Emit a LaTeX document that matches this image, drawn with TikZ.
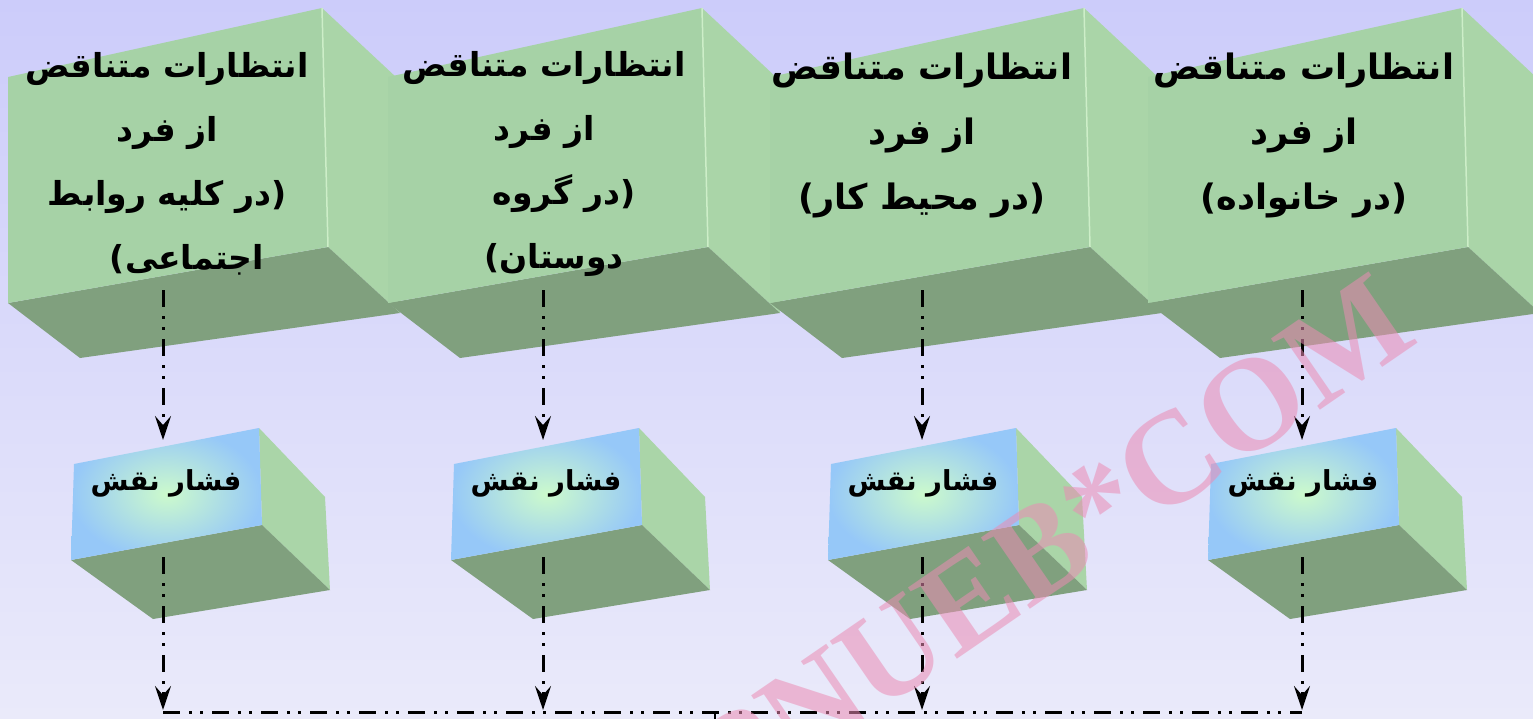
\documentclass[tikz,border=0pt]{standalone}
\usepackage{fontspec}
\setmainfont{Liberation Serif}
\TeXXeTstate=1
\newfontfamily\fa[Script=Arabic]{DejaVu Sans}
\usetikzlibrary{arrows.meta}
\definecolor{bgtop}{RGB}{204,204,250}
\definecolor{bgbot}{RGB}{234,234,250}
\definecolor{gfront}{RGB}{166,210,166}
\definecolor{gside}{RGB}{170,213,168}
\definecolor{gbottom}{RGB}{128,160,126}
\definecolor{gedge}{RGB}{205,238,200}
\definecolor{sin}{RGB}{204,250,204}
\definecolor{sout}{RGB}{150,200,248}
\definecolor{wmcol}{RGB}{235,140,180}
\newcommand\faline[1]{\beginR#1\endR}
\newcommand\bigcube[1]{%
  \begin{scope}[xshift=#1pt]
    \fill[gside] (322,8) -- (397,78) -- (400,313) -- (328,247) -- cycle;
    \fill[gbottom] (8,303) -- (328,247) -- (400,313) -- (80,358) -- cycle;
    \fill[gfront] (8,77) -- (322,8) -- (328,247) -- (8,303) -- cycle;
    \draw[gedge,line width=1.5pt] (322,8) -- (328,247);
  \end{scope}}
\newcommand\smallcube[1]{%
  \begin{scope}[xshift=#1pt]
    \fill[gside] (259,428) -- (325,497) -- (330,590) -- (262,525) -- cycle;
    \fill[gbottom] (71,560) -- (262,525) -- (330,590) -- (153,619) -- cycle;
    \shade[inner color=sin,outer color=sout] (74,464) -- (259,428) -- (262,525) -- (71,560) -- cycle;
  \end{scope}}
\tikzset{
  bigtext/.style={align=center,inner sep=0pt,font=\fa\bfseries\fontsize{33}{64}\selectfont},
  bigtextw/.style={align=center,inner sep=0pt,font=\fa\bfseries\fontsize{35}{65}\selectfont},
  smalltext/.style={inner sep=0pt,font=\fa\bfseries\fontsize{27.5}{30}\selectfont},
  flow/.style={line width=3pt,dash pattern=on 17pt off 9pt on 3pt off 8pt on 3pt off 9pt},
  arrowtip/.style={-{Stealth[length=24pt,width=16pt,inset=9pt]}}
}
\begin{document}
\begin{tikzpicture}[x=1pt,y=-1pt]
\useasboundingbox (0,0) rectangle (1533,719);
\shade[top color=bgtop,bottom color=bgbot] (0,0) rectangle (1533,719);
% big cubes
\bigcube{0}
\bigcube{380}
\bigcube{762}
\bigcube{1140}
% small cubes
\smallcube{0}
\smallcube{380}
\smallcube{757}
\smallcube{1137}
% texts
\node[bigtext] (t1) at (167,164) {\faline{انتظارات متناقض}\\\faline{از فرد}\\\faline{(در کلیه روابط}\hspace*{18pt}\\\hspace*{40pt}\faline{اجتماعی)}};
\node[bigtext] (t2) at (544,164) {\faline{انتظارات متناقض}\\\faline{از فرد}\\\hspace*{40pt}\faline{(در گروه}\\\hspace*{20pt}\faline{دوستان)}};
\node[bigtextw] (t3) at (922,135) {\faline{انتظارات متناقض}\\\faline{از فرد}\\\faline{(در محیط کار)}};
\node[bigtextw] (t4) at (1304,135) {\faline{انتظارات متناقض}\\\faline{از فرد}\\\faline{(در خانواده)}};
\node[smalltext] (s1) at (166,483) {\faline{فشار نقش}};
\node[smalltext] (s2) at (546,483) {\faline{فشار نقش}};
\node[smalltext] (s3) at (923,483) {\faline{فشار نقش}};
\node[smalltext] (s4) at (1303,483) {\faline{فشار نقش}};
% connector coordinates
\coordinate (a1) at (163,290); \coordinate (b1) at (163,440);
\coordinate (c1) at (163,557); \coordinate (d1) at (163,710);
\coordinate (a2) at (543,290); \coordinate (b2) at (543,440);
\coordinate (c2) at (543,557); \coordinate (d2) at (543,710);
\coordinate (a3) at (922,290); \coordinate (b3) at (922,440);
\coordinate (c3) at (922,557); \coordinate (d3) at (922,710);
\coordinate (a4) at (1302,290); \coordinate (b4) at (1302,440);
\coordinate (c4) at (1302,557); \coordinate (d4) at (1302,710);
\coordinate (hl) at (163,712); \coordinate (hr) at (1302,712);
\coordinate (hm) at (715,712); \coordinate (hb) at (715,720);
\foreach \i in {1,2,3,4}{
  \draw[flow,arrowtip] (a\i) -- (b\i);
  \draw[flow,arrowtip] (c\i) -- (d\i);
}
\draw[flow] (hl) -- (hr);
\draw[line width=2pt] (hm) -- (hb);
% watermark
\node[rotate=34.5,text=wmcol,opacity=0.55,inner sep=0pt,font=\bfseries\fontsize{132}{132}\selectfont] (wm) at (1052,542) {PNUEB*COM};
\end{tikzpicture}
\end{document}
